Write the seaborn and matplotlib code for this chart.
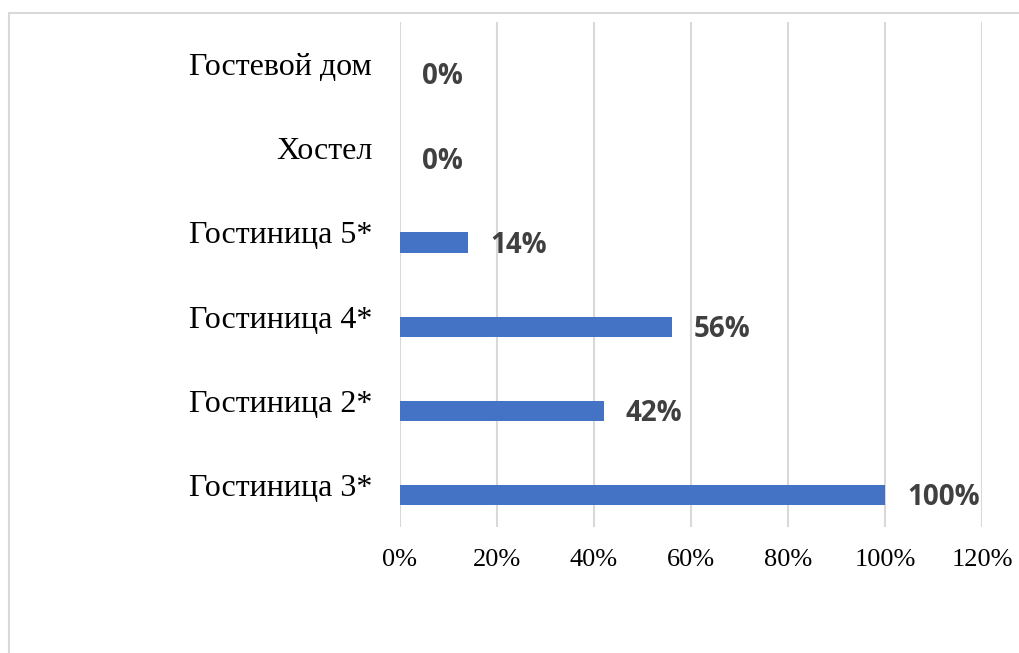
import matplotlib
matplotlib.use("Agg")
import matplotlib.pyplot as plt
from matplotlib.lines import Line2D
from matplotlib.ticker import PercentFormatter
import seaborn as sns
import pandas as pd

# Data
categories = ["Гостевой дом", "Хостел", "Гостиница 5*", "Гостиница 4*",
              "Гостиница 2*", "Гостиница 3*"]
shares = [0, 0, 14, 56, 42, 100]
value_labels = ["0%", "0%", "14%", "56%", "42%", "100%"]
x_ticks = [0, 20, 40, 60, 80, 100, 120]

sns.set_theme(style="white")

# two-level hue: the empty first level pushes the real bars below the label centre
df = pd.DataFrame({
    "category": categories * 2,
    "share": [0] * len(shares) + shares,
    "series": ["blank"] * len(shares) + ["share"] * len(shares),
})

fig = plt.figure(figsize=(10.19, 6.53), dpi=100)
ax = fig.add_axes([0.3925, 0.193, 0.5712, 0.7733])

sns.barplot(data=df, y="category", x="share", hue="series",
            hue_order=["blank", "share"], order=categories,
            palette=["#ffffff", "#4472C4"], width=0.48, dodge=True,
            saturation=1, legend=False, linewidth=0, ax=ax)

# hide the placeholder series completely
for p in ax.containers[0]:
    p.set_visible(False)
for p in ax.containers[1]:
    p.set_linewidth(0)

ax.set_xlim(0, 120)
ax.set_xticks(x_ticks)
ax.xaxis.set_major_formatter(PercentFormatter(decimals=0))
ax.grid(axis="x", color="#d9d9d9", linewidth=1.5)
ax.set_axisbelow(True)
for s in ax.spines.values():
    s.set_visible(False)
ax.set_xlabel("")
ax.set_ylabel("")
ax.tick_params(axis="y", length=0, pad=20)
ax.tick_params(axis="x", length=0, pad=16)
for lbl in ax.get_yticklabels():
    lbl.set_fontfamily("Liberation Serif")
    lbl.set_fontsize(23)
    lbl.set_color("black")
for lbl in ax.get_xticklabels():
    lbl.set_fontfamily("Liberation Serif")
    lbl.set_fontsize(19)
    lbl.set_color("black")

# data labels next to the bars of the real series
bars = ax.containers[1]
for bar, txt in zip(bars, value_labels):
    y = bar.get_y() + bar.get_height() / 2
    ax.annotate(txt, (bar.get_width(), y), xytext=(16, -2),
                textcoords="offset points", ha="left", va="center",
                fontsize=20, fontweight="bold", family="Open Sans",
                color="#404040")

# light frame around the chart area
fig.add_artist(Line2D([9 / 1019, 1.0], [1 - 13 / 653, 1 - 13 / 653],
                      transform=fig.transFigure, color="#d9d9d9", linewidth=1.5))
fig.add_artist(Line2D([9 / 1019, 9 / 1019], [0.0, 1 - 13 / 653],
                      transform=fig.transFigure, color="#d9d9d9", linewidth=1.5))

fig.savefig("out.png", dpi=100)
